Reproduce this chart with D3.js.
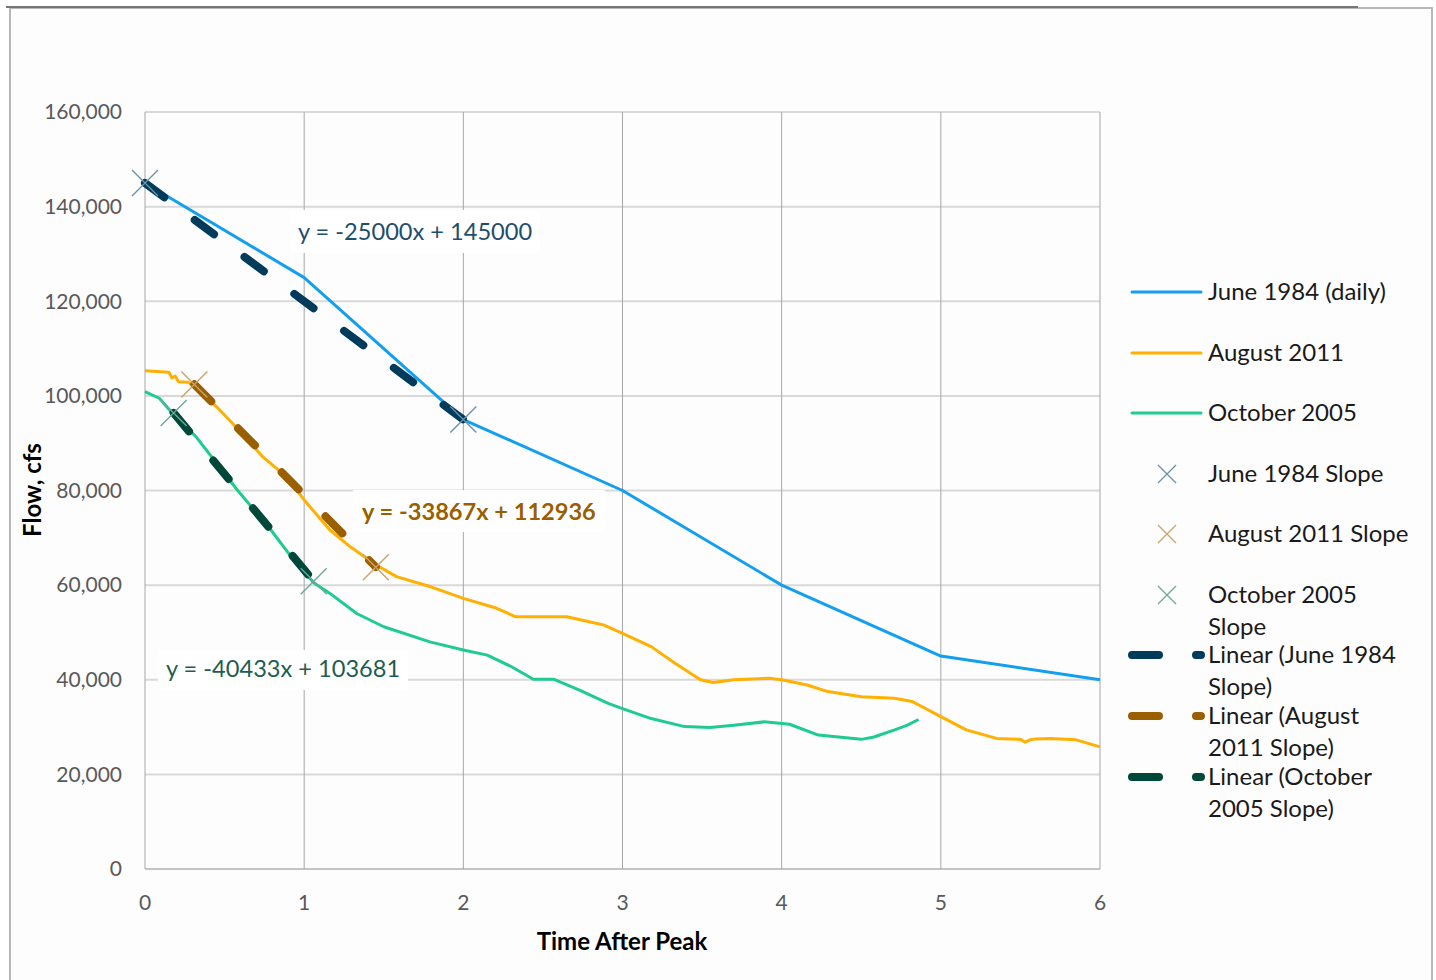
<!DOCTYPE html>
<html>
<head>
<meta charset="utf-8">
<script src="https://cdn.jsdelivr.net/npm/d3@7"></script>
<style>
  html, body { margin: 0; padding: 0; background: #ffffff; }
  svg { display: block; }
</style>
</head>
<body>
<svg id="chart" width="1436" height="980"></svg>
<script>
// series
const juneT = [0, 1, 2, 3, 4, 5, 6];
const juneFlow = [145000, 125000, 95000, 80000, 60000, 45000, 40000];

const augT = [0, 0.15, 0.17, 0.19, 0.21, 0.27, 0.31, 0.45, 0.6, 0.74, 0.89, 1.0, 1.16, 1.29, 1.45, 1.58, 1.79, 1.85, 2.0, 2.21, 2.33, 2.42, 2.65, 2.84, 2.88, 3.0, 3.18, 3.33, 3.49, 3.57, 3.7, 3.92, 4.0, 4.16, 4.29, 4.5, 4.71, 4.82, 5.0, 5.16, 5.35, 5.5, 5.53, 5.56, 5.6, 5.69, 5.85, 6.0];
const augFlow = [105300, 105000, 103800, 104200, 103000, 102900, 101900, 97700, 92400, 87100, 82900, 78000, 71700, 68100, 64300, 61800, 59700, 59000, 57200, 55100, 53300, 53300, 53300, 51900, 51600, 49800, 47000, 43500, 40000, 39400, 40000, 40300, 40000, 38900, 37500, 36400, 36100, 35400, 32200, 29400, 27600, 27400, 26800, 27300, 27500, 27600, 27300, 25800];

const octT = [0, 0.09, 0.18, 0.32, 0.58, 0.79, 0.95, 1.06, 1.16, 1.33, 1.5, 1.79, 2.0, 2.15, 2.3, 2.44, 2.57, 2.73, 2.91, 3.0, 3.18, 3.39, 3.55, 3.7, 3.89, 4.05, 4.23, 4.5, 4.58, 4.71, 4.79, 4.86];
const octFlow = [100900, 99500, 96000, 91400, 80100, 71700, 64600, 60500, 58300, 54000, 51200, 48000, 46300, 45200, 42800, 40100, 40100, 37800, 35000, 33900, 31800, 30100, 29900, 30400, 31100, 30600, 28300, 27400, 27900, 29400, 30400, 31600];

// slope points (X markers)
const juneSlopeT = [0, 2];
const juneSlopeFlow = [145000, 95000];
const augSlopeT = [0.31, 1.45];
const augSlopeFlow = [102400, 63800];
const octSlopeT = [0.18, 1.06];
const octSlopeFlow = [96400, 60800];

// linear trend fits
const trendSlope = [-25000, -33867, -40433];
const trendIntercept = [145000, 112936, 103681];

const seriesNames = ["June 1984 (daily)", "August 2011", "October 2005"];
const slopeNames = ["June 1984 Slope", "August 2011 Slope", "October 2005 Slope"];
const linearNames = ["Linear (June 1984 Slope)", "Linear (August 2011 Slope)", "Linear (October 2005 Slope)"];

const xTicks = [0, 1, 2, 3, 4, 5, 6];
const yTicks = [0, 20000, 40000, 60000, 80000, 100000, 120000, 140000, 160000];

const lineColors = ["#139ff0", "#ffb000", "#1fcc8f"];
const markColors = ["#6a93aa", "#c9a46c", "#6fa79a"];
const trendColors = ["#003b5c", "#9a5f00", "#00493a"];
const labelColors = ["#1f4e6d", "#9a5f00", "#1d5e50"];

const font = "Lato, 'Open Sans', sans-serif";

const svg = d3.select("#chart");

const x = d3.scaleLinear().domain([0, 6]).range([145, 1100]);
const y = d3.scaleLinear().domain([0, 160000]).range([869, 112]);

//outer frame
svg.append("rect")
  .attr("x", 10).attr("y", 8)
  .attr("width", 1422).attr("height", 990)
  .attr("fill", "#fdfdfd")
  .attr("stroke", "#b8b8b8")
  .attr("stroke-width", 2);
svg.append("line")
  .attr("x1", 6).attr("x2", 1358)
  .attr("y1", 7).attr("y2", 7)
  .attr("stroke", "#767676")
  .attr("stroke-width", 2);

//gridlines
const grid = svg.append("g");
grid.selectAll("line.h")
  .data(yTicks)
  .join("line")
  .attr("class", "h")
  .attr("x1", x(0)).attr("x2", x(6))
  .attr("y1", d => y(d)).attr("y2", d => y(d))
  .attr("stroke", d => (d === 0 ? "#c4c4c4" : "#d9d9d9"))
  .attr("stroke-width", 2);
grid.selectAll("line.v")
  .data(xTicks)
  .join("line")
  .attr("class", "v")
  .attr("x1", d => x(d)).attr("x2", d => x(d))
  .attr("y1", y(160000)).attr("y2", y(0))
  .attr("stroke", "#a6a6a6")
  .attr("stroke-width", 1);

//tick labels
svg.append("g")
  .selectAll("text")
  .data(yTicks)
  .join("text")
  .attr("x", 122)
  .attr("y", d => y(d))
  .attr("dy", "0.35em")
  .attr("text-anchor", "end")
  .attr("font-family", font)
  .attr("font-size", 21)
  .attr("fill", "#595959")
  .text(d => d3.format(",")(d));

svg.append("g")
  .selectAll("text")
  .data(xTicks)
  .join("text")
  .attr("x", d => x(d))
  .attr("y", 903)
  .attr("dy", "0.35em")
  .attr("text-anchor", "middle")
  .attr("font-family", font)
  .attr("font-size", 21)
  .attr("fill", "#595959")
  .text(d => d);

//axis titles
svg.append("text")
  .attr("x", 622).attr("y", 942)
  .attr("dy", "0.35em")
  .attr("text-anchor", "middle")
  .attr("font-family", font)
  .attr("font-weight", "bold")
  .attr("font-size", 24)
  .attr("fill", "#000")
  .text("Time After Peak");
svg.append("text")
  .attr("transform", "translate(33, 490) rotate(-90)")
  .attr("dy", "0.35em")
  .attr("text-anchor", "middle")
  .attr("font-family", font)
  .attr("font-weight", "bold")
  .attr("font-size", 24)
  .attr("fill", "#000")
  .text("Flow, cfs");

//white boxes behind the trend equations
const eqBoxes = [
  { x: 290, y: 210, w: 250, h: 43 },
  { x: 353, y: 490, w: 252, h: 42 },
  { x: 158, y: 650, w: 250, h: 40 }
];
svg.append("g")
  .selectAll("rect")
  .data(eqBoxes)
  .join("rect")
  .attr("x", d => d.x).attr("y", d => d.y)
  .attr("width", d => d.w).attr("height", d => d.h)
  .attr("fill", "#ffffff");

//data lines
const line = d3.line().x(d => x(d[0])).y(d => y(d[1]));
const series = [
  d3.zip(juneT, juneFlow),
  d3.zip(augT, augFlow),
  d3.zip(octT, octFlow)
];
svg.append("g")
  .selectAll("path")
  .data(series)
  .join("path")
  .attr("d", line)
  .attr("fill", "none")
  .attr("stroke", (d, i) => lineColors[i])
  .attr("stroke-width", 3)
  .attr("stroke-linejoin", "round");

//trend lines over the slope point range
const slopeT = [juneSlopeT, augSlopeT, octSlopeT];
const slopeFlow = [juneSlopeFlow, augSlopeFlow, octSlopeFlow];
const trends = slopeT.map((ts, i) =>
  d3.extent(ts).map(t => [t, trendSlope[i] * t + trendIntercept[i]])
);
svg.append("g")
  .selectAll("path")
  .data(trends)
  .join("path")
  .attr("d", line)
  .attr("fill", "none")
  .attr("stroke", (d, i) => trendColors[i])
  .attr("stroke-width", 8)
  .attr("stroke-linecap", "round")
  .attr("stroke-dasharray", "24,38");

//X markers
const cross = (g, size) =>
  g.append("path")
    .attr("d", `M${-size},${-size}L${size},${size}M${-size},${size}L${size},${-size}`);
const marks = svg.append("g");
slopeT.forEach((ts, i) => {
  ts.forEach((t, j) => {
    const g = marks.append("g")
      .attr("transform", `translate(${x(t)},${y(slopeFlow[i][j])})`);
    cross(g, 13)
      .attr("stroke", markColors[i])
      .attr("stroke-width", 1.4)
      .attr("fill", "none");
  });
});

//equation labels
const eqLabels = [
  { x: 298, y: 232, bold: false },
  { x: 362, y: 512, bold: true },
  { x: 166, y: 669, bold: false }
];
svg.append("g")
  .selectAll("text")
  .data(eqLabels)
  .join("text")
  .attr("x", d => d.x).attr("y", d => d.y)
  .attr("dy", "0.35em")
  .attr("font-family", font)
  .attr("font-size", 23.6)
  .attr("font-weight", d => (d.bold ? "bold" : "normal"))
  .attr("fill", (d, i) => labelColors[i])
  .text((d, i) => {
    const b = d3.format(".0f")(trendIntercept[i]);
    return `y = ${trendSlope[i]}x + ${b}`;
  });

//legend
const legend = svg.append("g")
  .attr("font-family", font)
  .attr("font-size", 24)
  .attr("fill", "#1a1a1a");
const legendText = (lines, y0) => {
  const t = legend.append("text").attr("x", 1208);
  lines.forEach((s, k) => {
    t.append("tspan")
      .attr("x", 1208)
      .attr("y", y0 + k * 32)
      .attr("dy", "0.35em")
      .text(s);
  });
};

const lineRows = [292, 353, 413];
lineRows.forEach((ly, i) => {
  legend.append("line")
    .attr("x1", 1132).attr("x2", 1201)
    .attr("y1", ly).attr("y2", ly)
    .attr("stroke", lineColors[i])
    .attr("stroke-width", 3)
    .attr("stroke-linecap", "round");
  legendText([seriesNames[i]], ly);
});

const markRows = [474, 534, 595];
markRows.forEach((ly, i) => {
  const g = legend.append("g").attr("transform", `translate(1167,${ly})`);
  cross(g, 9)
    .attr("stroke", markColors[i])
    .attr("stroke-width", 1.3)
    .attr("fill", "none");
});
legendText([slopeNames[0]], 474);
legendText([slopeNames[1]], 534);
legendText(["October 2005", "Slope"], 595);

const linearRows = [655, 716, 777];
const linearLines = [
  ["Linear (June 1984", "Slope)"],
  ["Linear (August", "2011 Slope)"],
  ["Linear (October", "2005 Slope)"]
];
linearRows.forEach((ly, i) => {
  legend.append("line")
    .attr("x1", 1132).attr("x2", 1201)
    .attr("y1", ly).attr("y2", ly)
    .attr("stroke", trendColors[i])
    .attr("stroke-width", 8)
    .attr("stroke-linecap", "round")
    .attr("stroke-dasharray", "27,37");
  legendText(linearLines[i], ly);
});
</script>
</body>
</html>
